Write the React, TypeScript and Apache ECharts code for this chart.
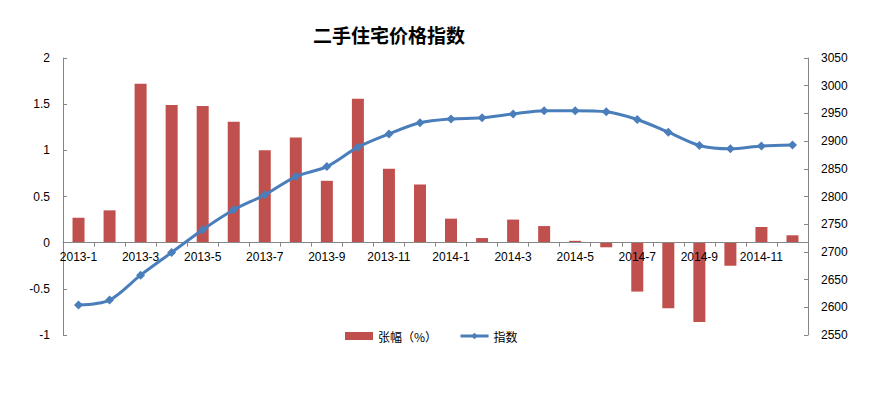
import React, { useEffect, useRef } from "react";
import * as echarts from "echarts";

const categories = [
  "2013-1", "2013-2", "2013-3", "2013-4", "2013-5", "2013-6",
  "2013-7", "2013-8", "2013-9", "2013-10", "2013-11", "2013-12",
  "2014-1", "2014-2", "2014-3", "2014-4", "2014-5", "2014-6",
  "2014-7", "2014-8", "2014-9", "2014-10", "2014-11", "2014-12",
];

const changePct = [
  0.27, 0.35, 1.72, 1.49, 1.48, 1.31, 1.0, 1.14, 0.67, 1.56, 0.8, 0.63,
  0.26, 0.05, 0.25, 0.18, 0.02, -0.05, -0.53, -0.71, -0.86, -0.25, 0.17, 0.08,
];

const indexValues = [
  2604, 2613, 2658, 2699, 2740, 2776, 2803, 2836, 2854, 2889, 2913, 2933,
  2940, 2942, 2949, 2955, 2955, 2953, 2939, 2916, 2892, 2886, 2891, 2893,
];

const seriesNames = ["张幅（%）", "指数"];
const titleText = "二手住宅价格指数";

const FONT = "Liberation Sans, Arial, Noto Sans CJK SC, sans-serif";
const AXIS_COLOR = "#868686";
const LINE_COLOR = "#4A7EBB";

const GRID_TOP = 58;
const GRID_BOTTOM = 58;
const CHART_H = 393;
const LEFT_MIN = -1;
const LEFT_MAX = 2;

export default function App() {
  const ref = useRef<HTMLDivElement>(null);

  useEffect(() => {
    if (!ref.current) return;
    const chart = echarts.init(ref.current, undefined, { renderer: "svg" });
    const plotH = CHART_H - GRID_TOP - GRID_BOTTOM;
    // move category axis up from the bottom of the grid to the zero line of the left axis
    const zeroOffset = -(plotH * (0 - LEFT_MIN)) / (LEFT_MAX - LEFT_MIN);
    chart.setOption({
      animation: false,
      backgroundColor: "#ffffff",
      textStyle: { fontFamily: FONT },
      title: {
        text: titleText,
        left: 308,
        top: 20,
        textStyle: {
          fontSize: 19,
          fontWeight: "bold",
          color: "#000000",
          fontFamily: "Noto Sans CJK SC, sans-serif",
        },
      },
      legend: {
        data: [
          { name: seriesNames[0], icon: "rect" },
          {
            name: seriesNames[1],
            lineStyle: { width: 3, color: LINE_COLOR },
            itemStyle: { color: LINE_COLOR },
          },
        ],
        left: 340,
        top: 325,
        itemWidth: 28,
        itemHeight: 8,
        itemGap: 22,
        textStyle: {
          fontSize: 12,
          color: "#000000",
          fontFamily: "Noto Sans CJK SC, sans-serif",
        },
      },
      grid: { left: 63, right: 68, top: GRID_TOP, bottom: GRID_BOTTOM, containLabel: false },
      xAxis: {
        type: "category",
        data: categories,
        boundaryGap: true,
        position: "bottom",
        offset: zeroOffset,
        z: 5,
        axisLine: {
          onZero: false,
          lineStyle: { color: AXIS_COLOR, width: 1 },
        },
        axisTick: {
          show: true,
          interval: 0,
          length: 4,
          lineStyle: { color: AXIS_COLOR },
        },
        axisLabel: {
          interval: 1,
          fontSize: 12,
          color: "#000000",
          margin: 8,
          fontFamily: FONT,
        },
        splitLine: { show: false },
      },
      yAxis: [
        {
          type: "value",
          min: LEFT_MIN,
          max: LEFT_MAX,
          interval: 0.5,
          position: "left",
          axisLine: { show: true, lineStyle: { color: AXIS_COLOR } },
          axisTick: {
            show: true,
            inside: true,
            length: 4,
            lineStyle: { color: AXIS_COLOR },
          },
          axisLabel: {
            fontSize: 12,
            color: "#000000",
            margin: 13,
            fontFamily: FONT,
            formatter: (v: number) => String(v),
          },
          splitLine: { show: false },
        },
        {
          type: "value",
          min: 2550,
          max: 3050,
          interval: 50,
          position: "right",
          axisLine: { show: true, lineStyle: { color: AXIS_COLOR } },
          axisTick: {
            show: true,
            inside: true,
            length: 4,
            lineStyle: { color: AXIS_COLOR },
          },
          axisLabel: {
            fontSize: 12,
            color: "#000000",
            margin: 13,
            fontFamily: FONT,
            formatter: (v: number) => String(v),
          },
          splitLine: { show: false },
        },
      ],
      series: [
        {
          name: seriesNames[0],
          type: "bar",
          yAxisIndex: 0,
          data: changePct,
          barWidth: 12,
          z: 2,
          itemStyle: { color: "#C0504D" },
        },
        {
          name: seriesNames[1],
          type: "line",
          yAxisIndex: 1,
          data: indexValues,
          smooth: 0.3,
          symbol: "diamond",
          symbolSize: 9,
          z: 6,
          lineStyle: { color: LINE_COLOR, width: 3 },
          itemStyle: { color: LINE_COLOR },
        },
      ],
    });
    return () => chart.dispose();
  }, []);

  return (
    <div
      ref={ref}
      style={{ position: "fixed", left: 0, top: 0, width: 876, height: 393 }}
    />
  );
}
